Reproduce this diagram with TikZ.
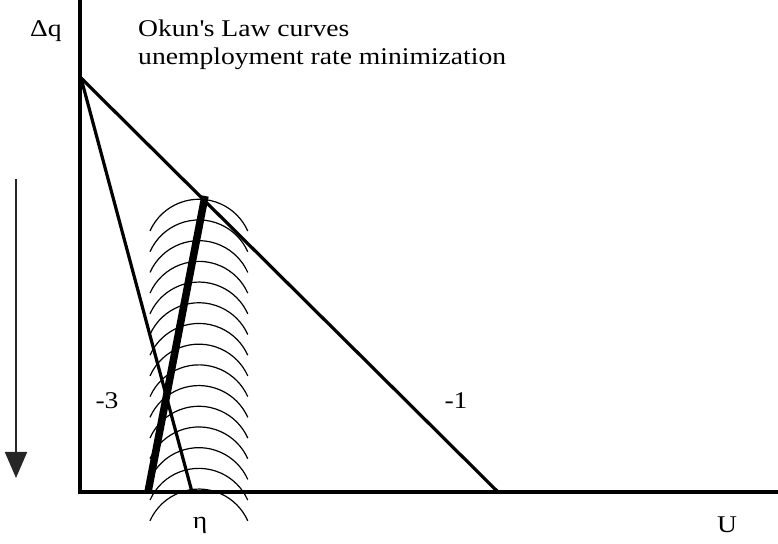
\documentclass[tikz,border=0pt]{standalone}
\usepackage{fontspec}
\setmainfont{Liberation Serif}[FakeStretch=1.15]
\usetikzlibrary{arrows.meta}

\begin{document}
\begin{tikzpicture}[x=1pt, y=1pt,
  axis/.style={line width=3.8pt},
  okun/.style={line width=3.2pt},
  minline/.style={line width=7.5pt},
  level/.style={line width=1.2pt},
  lbl/.style={font=\fontsize{24}{27}\selectfont, inner sep=0pt, anchor=base}]
  \useasboundingbox (0,0) rectangle (778,543);
  \coordinate (o) at (80,51);
  \coordinate (ytop) at (80,543);
  \coordinate (xend) at (778,51);
  \coordinate (p) at (81,465);
  \coordinate (m1) at (498,51);
  \coordinate (m3) at (192,51);
  \coordinate (eta) at (148,51);
  \coordinate (tan) at (205,347);
  \coordinate (arrtop) at (16,364);
  \coordinate (arrtip) at (16,65);
  % level curves
  \foreach \k in {0,...,14}
    \draw[level] (150,{312-\k*20.7}) arc[start angle=156, end angle=24, radius=53.5];
  % Okun lines
  \draw[okun] (p) -- (m3);
  \draw[okun] (p) -- (m1);
  \draw[minline] (eta) -- (tan);
  % axes
  \draw[axis] (ytop) -- (o) -- (xend);
  \draw[-{Triangle[width=22pt,length=26pt]}, line width=1.8pt, black!85] (arrtop) -- (arrtip);
  % labels
  \node[lbl] (dq) at (46,506) {Δq};
  \node[lbl, anchor=base west] (title1) at (138,506) {Okun\textquotesingle s Law curves};
  \node[lbl, anchor=base west] (title2) at (138,478) {unemployment rate minimization};
  \node[lbl] (s3) at (107,134) {-3};
  \node[lbl] (s1) at (456,134) {-1};
  \node[lbl] (etalbl) at (200,15) {η};
  \node[lbl] (ulbl) at (727,11) {U};
\end{tikzpicture}
\end{document}
